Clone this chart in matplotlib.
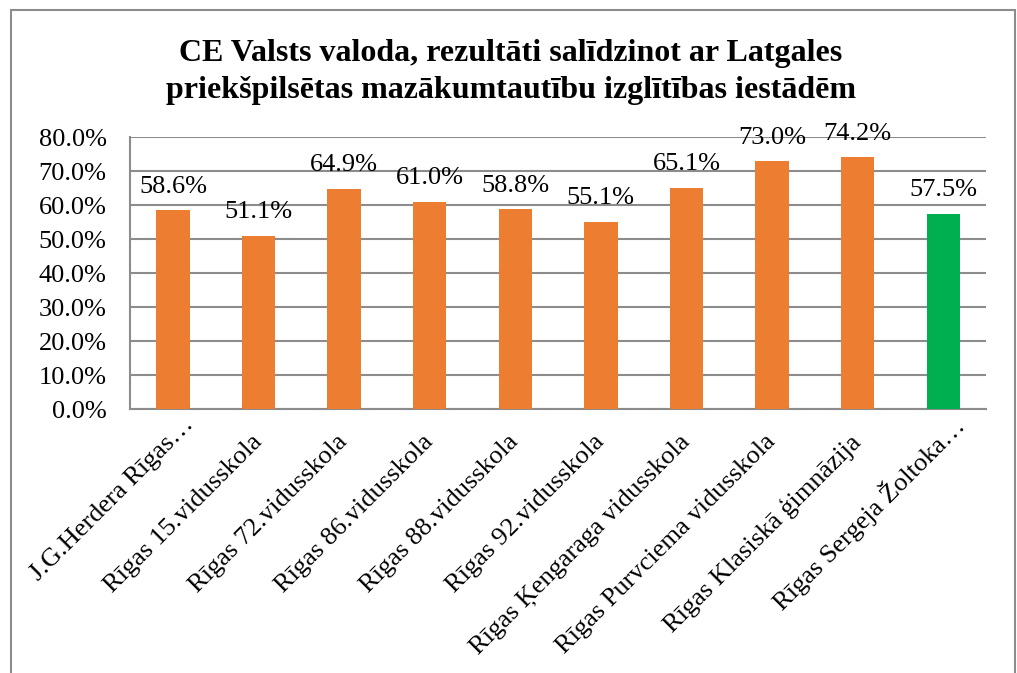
import matplotlib
matplotlib.use("Agg")
import matplotlib.pyplot as plt
from matplotlib.patches import Rectangle
from matplotlib.ticker import PercentFormatter
from matplotlib.transforms import ScaledTranslation

plt.rcParams['font.family'] = ['Liberation Serif', 'DejaVu Serif']

schools = ["J.G.Herdera Rīgas…", "Rīgas 15.vidusskola", "Rīgas 72.vidusskola",
           "Rīgas 86.vidusskola", "Rīgas 88.vidusskola", "Rīgas 92.vidusskola",
           "Rīgas Ķengaraga vidusskola", "Rīgas Purvciema vidusskola",
           "Rīgas Klasiskā ģimnāzija", "Rīgas Sergeja Žoltoka…"]
scores = [58.6, 51.1, 64.9, 61.0, 58.8, 55.1, 65.1, 73.0, 74.2, 57.5]
colors = ["#ED7D31"] * 9 + ["#00B050"]

fig = plt.figure(figsize=(10.17, 6.73), dpi=100)
ax = fig.add_axes([0.128, 0.392, 0.9695 - 0.128, 0.796 - 0.392])

x = range(len(schools))
bars = ax.bar(x, scores, width=0.39, color=colors, zorder=3)
for b, v in zip(bars, scores):
    ax.annotate(f"{v:.1f}%", (b.get_x() + b.get_width() / 2, v), xytext=(0, 9),
                textcoords="offset points", ha="center", va="bottom", fontsize=19, zorder=4)

ax.set_ylim(0, 80)
ax.set_xlim(-0.5, len(schools) - 0.5)
ax.set_yticks(range(0, 81, 10))
ax.yaxis.set_major_formatter(PercentFormatter(decimals=1))
ax.yaxis.grid(True, color="#8C8C8C", linewidth=1.5, zorder=0)
ax.tick_params(axis="y", length=0, pad=17, labelsize=19)
ax.tick_params(axis="x", length=0, pad=21)
ax.set_xticks(list(x))
ax.set_xticklabels(schools, rotation=45, ha="right", va="center", rotation_mode="anchor", fontsize=19)

# truncated labels sit a bit further along the diagonal in the original
for lbl in ax.get_xticklabels():
    if lbl.get_text().endswith("…"):
        lbl.set_transform(lbl.get_transform() + ScaledTranslation(0.17, 0.17, fig.dpi_scale_trans))

for side in ["top", "right"]:
    ax.spines[side].set_visible(False)
ax.spines["left"].set_color("#8C8C8C")
ax.spines["left"].set_linewidth(1.5)
ax.spines["bottom"].set_color("#8C8C8C")
ax.spines["bottom"].set_linewidth(1.5)

fig.text(0.502, 0.893, "CE Valsts valoda, rezultāti salīdzinot ar Latgales\npriekšpilsētas mazākumtautību izglītības iestādēm",
         ha="center", va="center", fontsize=23, fontweight="bold", linespacing=1.4)

fig.patches.append(Rectangle((11 / 1017, -0.1), (1015 - 11) / 1017, 1.1 - 10 / 673,
                             transform=fig.transFigure, fill=False,
                             edgecolor="#8C8C8C", linewidth=1.5))

fig.savefig("out.png", dpi=100)
